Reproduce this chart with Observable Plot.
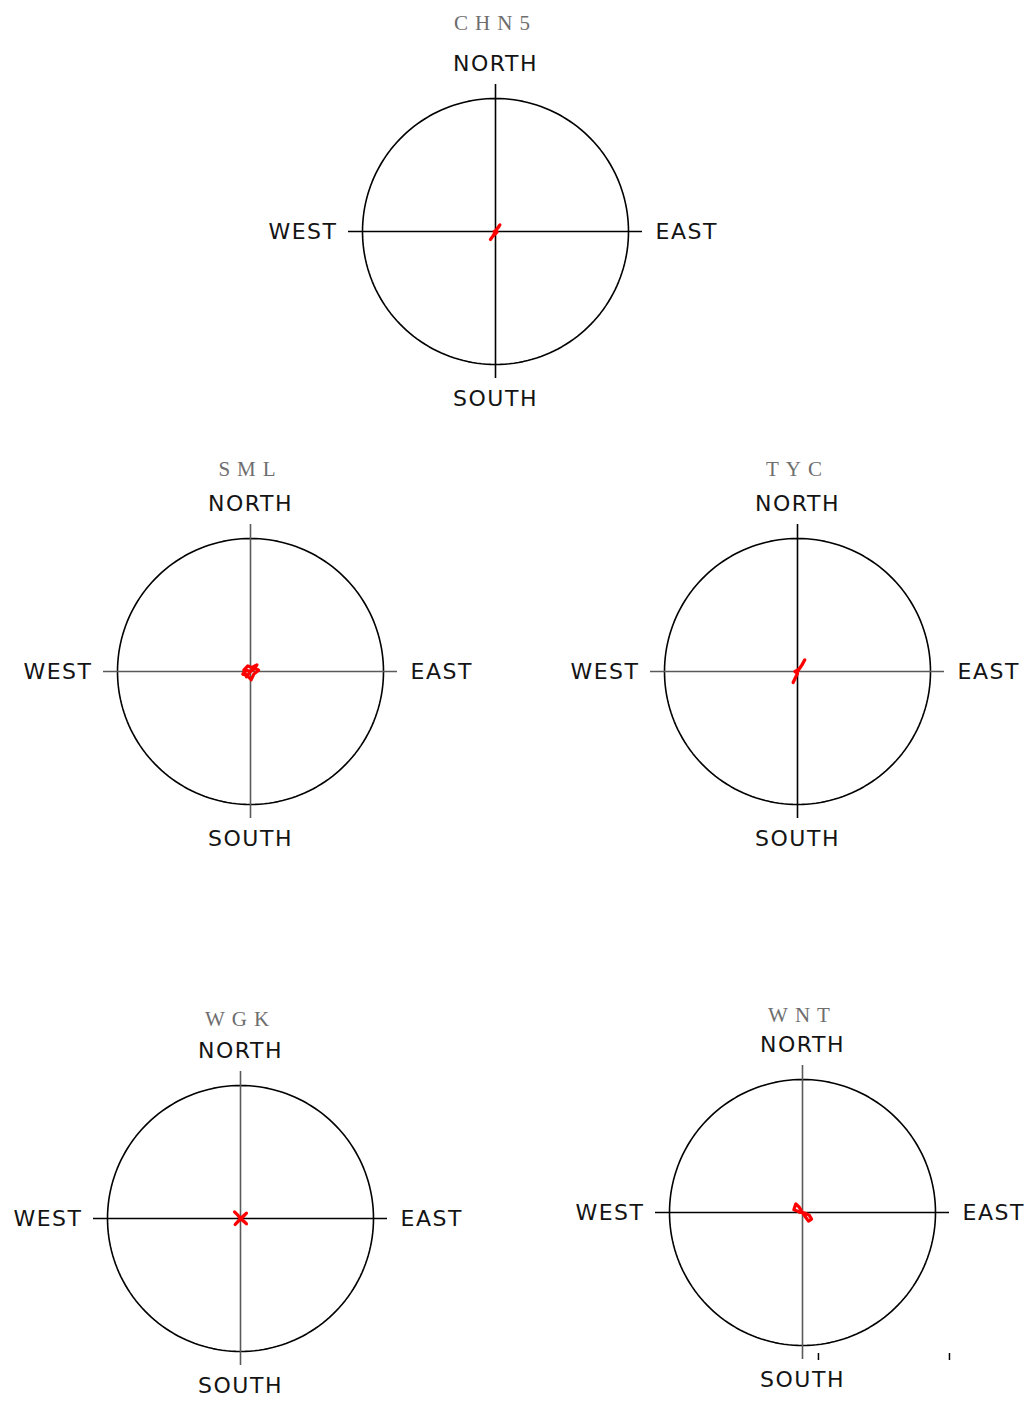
<!DOCTYPE html>
<html><head><meta charset="utf-8">
<script src="https://cdn.jsdelivr.net/npm/d3@7"></script>
<script src="https://cdn.jsdelivr.net/npm/@observablehq/plot@0.6"></script>
<style>
html,body{margin:0;padding:0;background:#fff;overflow:hidden;}
#page{position:relative;width:1034px;height:1402px;overflow:hidden;background:#fff;}
.panel{position:absolute;width:480px;height:450px;}
.panel svg{max-width:none !important;width:480px;height:450px;}
</style></head><body><div id="page"></div>
<script>
// ---- data ----
const stations = ["CHN5", "SML", "TYC", "WGK", "WNT"];
const directionLabels = ["NORTH", "SOUTH", "EAST", "WEST"];
// hodograph tracks (u = east, v = north), in units of the reference circle radius
const chn5U = [-0.038, -0.02, -0.005, 0.0, 0.015, 0.033, 0.02, 0.0, -0.01, 0.012, -0.025];
const chn5V = [-0.06, -0.035, -0.01, 0.0, 0.025, 0.05, 0.03, 0.005, 0.0, -0.005, -0.04];
const smlU = [0.0, 0.035, 0.06, 0.025, 0.005, -0.025, -0.058, -0.035, 0.0, 0.03, 0.048, 0.012, -0.02, -0.05, -0.03, 0.0];
const smlV = [0.0, 0.025, 0.01, -0.02, -0.062, -0.03, -0.02, 0.012, 0.0, 0.02, 0.05, 0.03, 0.042, 0.01, -0.04, 0.0];
const tycU = [-0.033, -0.015, 0.0, -0.02, 0.0, 0.02, 0.035, 0.055, 0.03, 0.01, 0.0];
const tycV = [-0.083, -0.045, -0.015, 0.0, 0.01, 0.03, 0.05, 0.088, 0.045, 0.015, 0.0];
const wgkU = [-0.045, -0.02, 0.0, 0.025, 0.045, 0.0, -0.04, -0.015, 0.02, 0.045, 0.0];
const wgkV = [0.05, 0.025, 0.0, -0.02, -0.04, 0.0, -0.045, -0.02, 0.015, 0.04, 0.0];
const wntU = [0.0, -0.025, -0.05, -0.065, -0.04, -0.02, 0.0, 0.03, 0.05, 0.068, 0.045, 0.02, 0.0];
const wntV = [0.0, 0.04, 0.065, 0.02, 0.012, 0.0, 0.0, -0.01, -0.02, -0.05, -0.065, -0.03, 0.0];
const wntTickU = [0.12, 1.105];

const tracks = {
  CHN5: {u: chn5U, v: chn5V},
  SML: {u: smlU, v: smlV},
  TYC: {u: tycU, v: tycV},
  WGK: {u: wgkU, v: wgkV},
  WNT: {u: wntU, v: wntV}
};

// ---- layout ----
const R = 133;            // px per unit (circle radius)
const W = 480, H = 450, CX = 240, CY = 225;
const layout = {
  CHN5: {cx: 495, cy: 231, titleOff: 208, vStroke: "#000", hStroke: "#000"},
  SML:  {cx: 250, cy: 671, titleOff: 202, vStroke: "#5a5a5a", hStroke: "#5a5a5a"},
  TYC:  {cx: 797, cy: 671, titleOff: 202, vStroke: "#000", hStroke: "#5a5a5a"},
  WGK:  {cx: 240, cy: 1218, titleOff: 199, vStroke: "#5a5a5a", hStroke: "#000"},
  WNT:  {cx: 802, cy: 1212, titleOff: 197, vStroke: "#5a5a5a", hStroke: "#000"}
};
const labelPos = {
  NORTH: {x: 0, y: 168 / R, anchor: "middle"},
  SOUTH: {x: 0, y: -167 / R, anchor: "middle"},
  EAST:  {x: 160 / R, y: 0, anchor: "start"},
  WEST:  {x: -158 / R, y: 0, anchor: "end"}
};
const ext = 147 / R;
const angles = d3.range(0, 361, 2);

const page = document.getElementById("page");
for (const name of stations) {
  const L = layout[name];
  const tr = tracks[name];
  const idx = d3.range(tr.u.length);
  const labels = directionLabels.map(t => ({t, ...labelPos[t]}));
  const marks = [
    Plot.line(angles, {x: a => Math.cos(a * Math.PI / 180), y: a => Math.sin(a * Math.PI / 180), stroke: "#000", strokeWidth: 1.6}),
    Plot.ruleX([0], {y1: -ext, y2: ext, stroke: L.vStroke, strokeWidth: 1.6}),
    Plot.ruleY([0], {x1: -ext, x2: ext, stroke: L.hStroke, strokeWidth: 1.6}),
    Plot.line(idx, {x: i => tr.u[i], y: i => tr.v[i], stroke: "#ff0000", strokeWidth: 3.2, strokeLinejoin: "round", strokeLinecap: "round"}),
    ...["middle", "start", "end"].map(anc => Plot.text(labels.filter(d => d.anchor === anc), {x: "x", y: "y", text: "t", textAnchor: anc, fontSize: 22, fontFamily: "DejaVu Sans", fill: "#141414"})),
    Plot.text([name], {x: 0, y: L.titleOff / R, text: d => d, fontSize: 21, fontFamily: "Liberation Serif", fill: "#6e6e6e"})
  ];
  if (name === "WNT") marks.push(Plot.ruleX(wntTickU, {y1: -1.06, y2: -1.113, stroke: "#000", strokeWidth: 1.5}));
  const svg = Plot.plot({
    width: W, height: H, margin: 0,
    x: {domain: [-CX / R, (W - CX) / R], range: [0, W], axis: null},
    y: {domain: [-(H - CY) / R, CY / R], range: [H, 0], axis: null},
    style: {background: "transparent", overflow: "visible", maxWidth: "none"},
    marks
  });
  d3.select(svg).selectAll("text").each(function() {
    const t = this.textContent;
    this.setAttribute("letter-spacing", t === name ? "7px" : "1.5px");
  });
  const div = document.createElement("div");
  div.className = "panel";
  div.style.left = (L.cx - CX) + "px";
  div.style.top = (L.cy - CY) + "px";
  div.appendChild(svg);
  page.appendChild(div);
}
</script>
</body></html>
